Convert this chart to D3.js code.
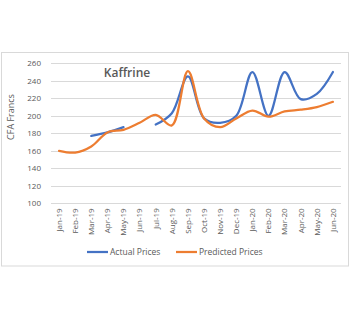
<!DOCTYPE html>
<html><head><meta charset="utf-8">
<script src="https://cdn.jsdelivr.net/npm/d3@7"></script>
<style>body{margin:0;background:#fff}svg{display:block}</style>
</head><body><div id="c"></div>
<script>
const months = ["Jan-19","Feb-19","Mar-19","Apr-19","May-19","Jun-19","Jul-19","Aug-19","Sep-19","Oct-19","Nov-19","Dec-19","Jan-20","Feb-20","Mar-20","Apr-20","May-20","Jun-20"];
const actualPrices = [null,null,177,181,187,null,190,203,245,197,192,200,250,200,250,219,225,250];
const predictedPrices = [160,158,165,181,184,192,201,189,251,197,187,197,206,199,205,207,210,216];
const yTicks = [100,120,140,160,180,200,220,240,260];
const seriesNames = ["Actual Prices","Predicted Prices"];
const colors = ["#4472C4","#ED7D31"];

const W = 350, H = 322;
const svg = d3.select("#c").append("svg").attr("width", W).attr("height", H);
svg.append("rect").attr("x",1.5).attr("y",52.5).attr("width",347).attr("height",213.5)
  .attr("fill","#fff").attr("stroke","#d9d9d9").attr("stroke-width",1);

const x = d3.scaleBand().domain(months).range([51, 341]);
const y = d3.scaleLinear().domain([100, 260]).range([203.3, 63.3]);
const font = "'Open Sans', 'Noto Sans', sans-serif";
const grey = "#595959";

// gridlines
svg.append("g").selectAll("line").data(yTicks).join("line")
  .attr("x1", 51).attr("x2", 341)
  .attr("y1", d => Math.round(y(d)) + 0.5).attr("y2", d => Math.round(y(d)) + 0.5)
  .attr("stroke", "#d9d9d9").attr("stroke-width", 1);

// y axis labels
const ya = svg.append("g").attr("transform", "translate(45,0)")
  .call(d3.axisLeft(y).tickValues(yTicks).tickSize(0).tickPadding(0));
ya.select(".domain").remove();
ya.selectAll("text").attr("font-family", font).attr("font-size", 8).attr("fill", grey).attr("x", -4);

// x axis labels
const xa = svg.append("g").attr("transform", "translate(0,203.3)")
  .call(d3.axisBottom(x).tickSize(0));
xa.select(".domain").remove();
xa.selectAll("text").attr("font-family", font).attr("font-size", 8).attr("fill", grey)
  .attr("transform", "rotate(-90)").attr("text-anchor", "end")
  .attr("x", -5).attr("y", 0).attr("dy", "0.35em");

// lines
const series = [actualPrices, predictedPrices];
const line = d3.line()
  .defined(d => d.v !== null)
  .x(d => x(d.m) + x.bandwidth() / 2)
  .y(d => y(d.v))
  .curve(d3.curveCatmullRom.alpha(0.5));
series.forEach((s, i) => {
  const data = months.map((m, j) => ({m, v: s[j]}));
  svg.append("path").datum(data).attr("d", line)
    .attr("fill", "none").attr("stroke", colors[i]).attr("stroke-width", 2.25)
    .attr("stroke-linecap", "round").attr("stroke-linejoin", "round");
});

// title
svg.append("text").attr("x", 127).attr("y", 77).attr("text-anchor", "middle")
  .attr("font-family", font).attr("font-size", 12).attr("font-weight", 600).attr("fill", grey)
  .text("Kaffrine");

// y axis title
svg.append("text").attr("transform", "translate(14,117) rotate(-90)").attr("text-anchor", "middle")
  .attr("font-family", font).attr("font-size", 9).attr("fill", grey).text("CFA Francs");

// legend
const lx = [87, 176];
seriesNames.forEach((n, i) => {
  const g = svg.append("g");
  g.append("line").attr("x1", lx[i]).attr("x2", lx[i] + 21).attr("y1", 252).attr("y2", 252)
    .attr("stroke", colors[i]).attr("stroke-width", 2.25);
  g.append("text").attr("x", lx[i] + 23).attr("y", 252).attr("dy", "0.35em")
    .attr("font-family", font).attr("font-size", 8.5).attr("fill", grey).text(n);
});
</script></body></html>
